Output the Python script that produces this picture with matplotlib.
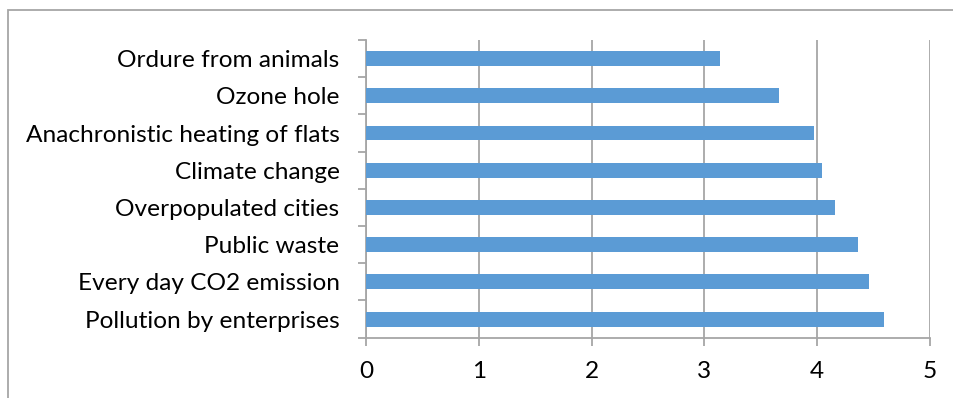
import matplotlib.pyplot as plt
from matplotlib.patches import Rectangle
import numpy as np

categories = ["Ordure from animals", "Ozone hole", "Anachronistic heating of flats",
              "Climate change", "Overpopulated cities", "Public waste",
              "Every day CO2 emission", "Pollution by enterprises"]
values = [3.14, 3.66, 3.97, 4.04, 4.16, 4.36, 4.46, 4.59]
xticks = [0, 1, 2, 3, 4, 5]

plt.rcParams['font.family'] = ['Lato', 'DejaVu Sans']

W, H = 954, 398
fig = plt.figure(figsize=(W / 100, H / 100), dpi=100)
ax = fig.add_axes([366 / W, 1 - 337.7 / H, (930 - 366) / W, (337.7 - 40) / H])

grey = '#a6a6a6'
y = np.arange(len(categories))[::-1]
ax.barh(y, values, height=0.4, color='#5b9bd5', zorder=3)

ax.set_xlim(0, 5)
ax.set_ylim(-0.5, len(categories) - 0.5)
ax.set_xticks(xticks)
ax.set_xticklabels([str(t) for t in xticks])
ax.set_yticks(y)
ax.set_yticklabels(categories)
ax.set_yticks(np.arange(-0.5, len(categories), 1), minor=True)

ax.grid(axis='x', color=grey, linewidth=1.3, zorder=0)
for s in ['top', 'right']:
    ax.spines[s].set_visible(False)
for s in ['left', 'bottom']:
    ax.spines[s].set_color(grey)
    ax.spines[s].set_linewidth(1.3)

ax.tick_params(axis='y', which='major', length=0, pad=19, labelsize=17.6)
ax.tick_params(axis='y', which='minor', length=6, color=grey, width=1.3)
ax.tick_params(axis='x', which='major', length=6, color=grey, width=1.3, pad=11, labelsize=17.6)

# outer chart frame
fig.patches.append(Rectangle((8 / W, -0.1), 1.2, 1.1 - 10 / H, transform=fig.transFigure,
                             fill=False, edgecolor=grey, linewidth=1.3))

fig.savefig('out.png', dpi=100)
